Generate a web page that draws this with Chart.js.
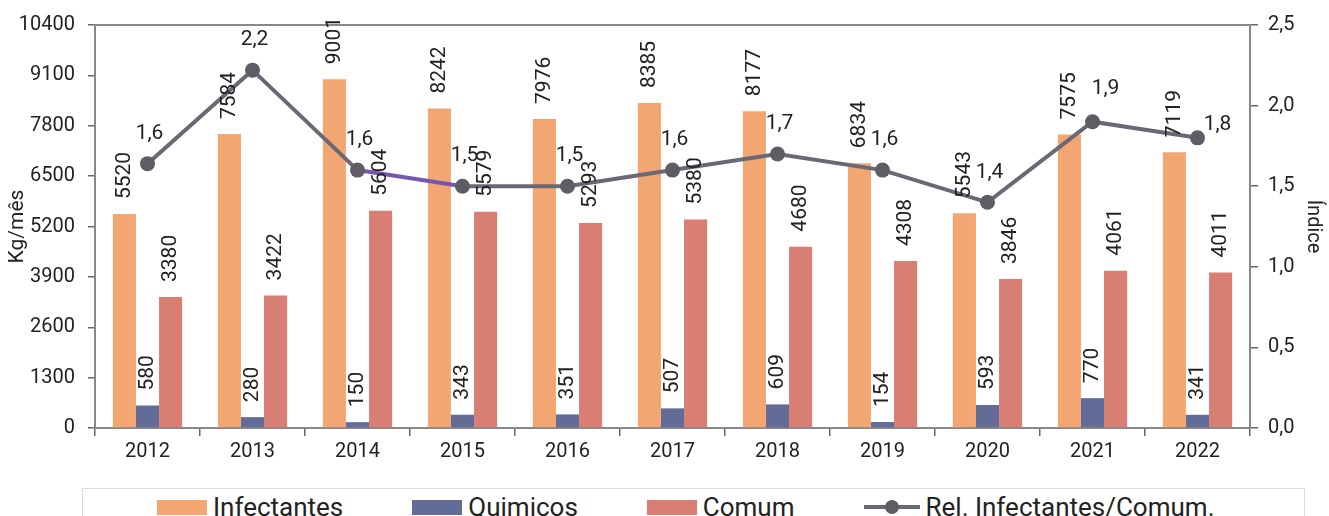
<!DOCTYPE html>
<html>
<head>
<meta charset="utf-8">
<style>
  body { margin: 0; background: #fff; font-family: Roboto, sans-serif; }
  #wrap { position: relative; width: 1329px; height: 516px; overflow: hidden; }
  #legend {
    position: absolute; left: 82px; top: 488px; width: 1223px; height: 40px;
    border: 1px solid #dcdcdc; box-sizing: border-box;
    display: flex; justify-content: flex-start; align-items: flex-start; gap: 69px;
    padding-top: 3px; padding-left: 74px;
  }
  .item { display: flex; align-items: center; font-size: 26px; color: #222; }
  .sw { width: 50px; height: 15px; margin-right: 6px; }
  .ln { position: relative; width: 56px; height: 4px; margin-right: 6px; }
  .ln i { position: absolute; left: 21px; top: -5px; width: 14px; height: 14px; border-radius: 50%; }
</style>
</head>
<body>
<div id="wrap">
  <canvas id="myChart" width="1329" height="487"></canvas>
  <div id="legend"></div>
</div>

<script src="https://cdn.jsdelivr.net/npm/chart.js@4.4.0/dist/chart.umd.min.js"></script>

<script>
  const years = ['2012', '2013', '2014', '2015', '2016', '2017', '2018', '2019', '2020', '2021', '2022']
  const infectantes = [5520, 7584, 9001, 8242, 7976, 8385, 8177, 6834, 5543, 7575, 7119]
  const quimicos = [580, 280, 150, 343, 351, 507, 609, 154, 593, 770, 341]
  const comum = [3380, 3422, 5604, 5579, 5293, 5380, 4680, 4308, 3846, 4061, 4011]
  const relacao = [1.64, 2.22, 1.6, 1.5, 1.5, 1.6, 1.7, 1.6, 1.4, 1.9, 1.8]
  const kgTicks = [0, 1300, 2600, 3900, 5200, 6500, 7800, 9100, 10400]
  const indiceTicks = [0, 0.5, 1.0, 1.5, 2.0, 2.5]

  Chart.defaults.font.family = 'Roboto'
  Chart.defaults.color = '#222'

  const fmt1 = v => v.toFixed(1).replace('.', ',')

  // rotated value labels above the bars, plus the labels of the line
  const barLabels = {
    id: 'barLabels',
    afterDatasetsDraw(chart) {
      const ctx = chart.ctx
      ctx.save()
      ctx.font = '21px Roboto'
      ctx.fillStyle = '#222'
      ctx.textAlign = 'left'
      ctx.textBaseline = 'middle'
      chart.data.datasets.forEach((ds, i) => {
        if (ds.type === 'line') return
        chart.getDatasetMeta(i).data.forEach((bar, j) => {
          ctx.save()
          ctx.translate(bar.x, bar.y - 15)
          ctx.rotate(-Math.PI / 2)
          ctx.fillText(String(ds.data[j]), 0, 0)
          ctx.restore()
        })
      })
      const li = chart.data.datasets.findIndex(ds => ds.type === 'line')
      const nudge = { 9: [13, 33], 10: [20, 13] }
      chart.getDatasetMeta(li).data.forEach((pt, j) => {
        const [dx, dy] = nudge[j] || [2, 30]
        ctx.textAlign = 'center'
        ctx.fillText(fmt1(relacao[j]), pt.x + dx, pt.y - dy)
      })
      ctx.restore()
    }
  }

  const topLine = {
    id: 'topLine',
    beforeDatasetsDraw(chart) {
      const { ctx, chartArea } = chart
      ctx.save()
      ctx.strokeStyle = '#888'
      ctx.lineWidth = 2
      ctx.beginPath()
      ctx.moveTo(chartArea.left, chartArea.top)
      ctx.lineTo(chartArea.right, chartArea.top)
      ctx.stroke()
      ctx.restore()
    }
  }

  const lineColor = '#6b6875'

  const chart = new Chart(document.getElementById('myChart'), {
    data: {
      labels: years,
      datasets: [
        { type: 'bar', label: 'Infectantes', data: infectantes, backgroundColor: '#f2a772', yAxisID: 'y', order: 1, categoryPercentage: 0.66, barPercentage: 1 },
        { type: 'bar', label: 'Quimicos', data: quimicos, backgroundColor: '#636b97', yAxisID: 'y', order: 1, categoryPercentage: 0.66, barPercentage: 1 },
        { type: 'bar', label: 'Comum', data: comum, backgroundColor: '#d97e73', yAxisID: 'y', order: 1, categoryPercentage: 0.66, barPercentage: 1 },
        {
          type: 'line', label: 'Rel. Infectantes/Comum.', data: relacao, yAxisID: 'y1', order: 0,
          borderColor: lineColor, borderWidth: 4, pointRadius: 7.5, pointBackgroundColor: '#5e5c65',
          pointBorderWidth: 0, tension: 0,
          segment: { borderColor: c => c.p0DataIndex === 2 ? '#7757ae' : lineColor }
        }
      ]
    },
    options: {
      responsive: false,
      animation: false,
      layout: { padding: { top: 23, left: 0, right: 0, bottom: 0 } },
      plugins: { legend: { display: false }, tooltip: { enabled: false } },
      scales: {
        x: {
          offset: true,
          grid: { display: true, drawOnChartArea: false, offset: true, tickLength: 8, color: '#666', lineWidth: 1.5 },
          border: { color: '#888', width: 2 },
          ticks: { font: { size: 20 }, color: '#222', padding: 4 },
          afterFit: s => { s.height = 59 }
        },
        y: {
          position: 'left', min: 0, max: 10400,
          afterBuildTicks: s => { s.ticks = kgTicks.map(v => ({ value: v })) },
          ticks: { font: { size: 20 }, color: '#222', padding: 13, callback: v => String(v) },
          grid: { drawOnChartArea: false, tickLength: 7, color: '#666', lineWidth: 1.5 },
          border: { color: '#888', width: 2 },
          title: { display: true, text: 'Kg/mês', font: { size: 21 }, color: '#222', padding: { top: 5, bottom: 0 } },
          afterFit: s => { s.width = 95 }
        },
        y1: {
          position: 'right', min: 0, max: 2.5,
          afterBuildTicks: s => { s.ticks = indiceTicks.map(v => ({ value: v })) },
          ticks: { font: { size: 20 }, color: '#222', padding: 10, callback: v => fmt1(v) },
          grid: { drawOnChartArea: false, tickLength: 8, color: '#666', lineWidth: 1.5 },
          border: { color: '#888', width: 2 },
          title: { display: true, text: 'Índice', font: { size: 20 }, color: '#222', padding: { top: 4, bottom: 0 } },
          afterFit: s => { s.width = 79 }
        }
      }
    },
    plugins: [barLabels, topLine]
  })

  // html legend built from the datasets
  const legend = document.getElementById('legend')
  chart.data.datasets.forEach(ds => {
    const item = document.createElement('div')
    item.className = 'item'
    const sw = document.createElement('span')
    if (ds.type === 'line') {
      sw.className = 'ln'
      sw.style.background = ds.borderColor
      const dot = document.createElement('i')
      dot.style.background = ds.pointBackgroundColor
      sw.appendChild(dot)
    } else {
      sw.className = 'sw'
      sw.style.background = ds.backgroundColor
    }
    item.appendChild(sw)
    item.appendChild(document.createTextNode(ds.label))
    legend.appendChild(item)
  })
</script>
</body>
</html>
